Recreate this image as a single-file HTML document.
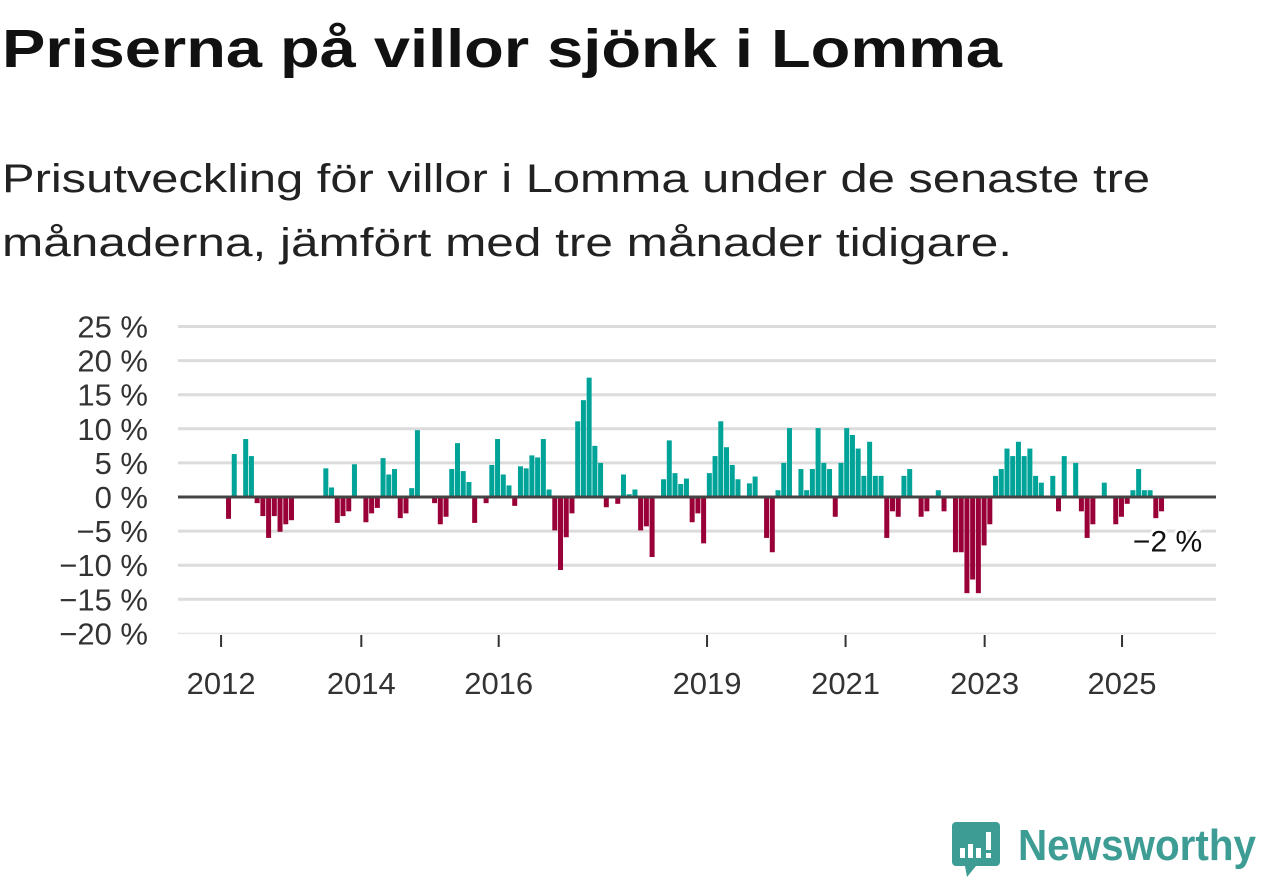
<!DOCTYPE html>
<html><head><meta charset="utf-8"><style>
html,body{margin:0;padding:0;background:#fff;}
svg{display:block;font-family:"Liberation Sans",sans-serif;}
</style></head><body>
<svg id="chart" width="1262" height="879" viewBox="0 0 1262 879">
<text x="2" y="67" font-size="54" font-weight="bold" fill="#111" textLength="1000" lengthAdjust="spacingAndGlyphs">Priserna på villor sjönk i Lomma</text>
<text x="2" y="192" font-size="40" fill="#222" textLength="1148" lengthAdjust="spacingAndGlyphs">Prisutveckling för villor i Lomma under de senaste tre</text>
<text x="2" y="256" font-size="40" fill="#222" textLength="1010" lengthAdjust="spacingAndGlyphs">månaderna, jämfört med tre månader tidigare.</text>
<g id="grid"></g><g id="bars"></g><g id="axes"></g>
<g>
<path d="M956 822 h40 a4 4 0 0 1 4 4 v36 a4 4 0 0 1 -4 4 h-20 l-9 11 l-2 -11 h-9 a4 4 0 0 1 -4 -4 v-36 a4 4 0 0 1 4 -4z" fill="#3d9c94"/>
<rect x="960" y="848" width="5" height="10" fill="#fff"/><rect x="968" y="844" width="5" height="14" fill="#fff"/><rect x="976" y="848" width="5" height="10" fill="#fff"/><rect x="986" y="832" width="5" height="18" fill="#fff"/><rect x="986" y="853" width="5" height="5" fill="#fff"/>
<text x="1018" y="860" font-size="44" font-weight="bold" fill="#3d9c94" textLength="238" lengthAdjust="spacingAndGlyphs">Newsworthy</text>
</g>
</svg>
<script>
const values=[null,-3.2,6.3,null,8.5,6.0,-0.9,-2.8,-6.0,-2.8,-5.1,-4.0,-3.4,null,null,null,null,null,4.2,1.4,-3.8,-2.8,-2.1,4.8,null,-3.7,-2.4,-1.6,5.7,3.3,4.1,-3.1,-2.4,1.3,9.8,null,null,-0.9,-4.0,-2.9,4.1,7.9,3.8,2.2,-3.8,null,-0.9,4.7,8.5,3.3,1.7,-1.3,4.5,4.2,6.1,5.8,8.5,1.1,-4.9,-10.7,-5.9,-2.4,11.1,14.2,17.5,7.5,5.0,-1.5,null,-1.0,3.3,0.4,1.1,-4.9,-4.3,-8.8,null,2.6,8.3,3.5,1.9,2.7,-3.7,-2.4,-6.8,3.5,6.0,11.1,7.3,4.7,2.6,null,2.0,3.0,null,-6.0,-8.1,1.0,5.0,10.1,null,4.1,1.0,4.1,10.1,5.0,4.1,-2.9,5.0,10.1,9.1,7.1,3.1,8.1,3.1,3.1,-6.0,-2.1,-2.9,3.1,4.1,null,-2.9,-2.1,null,1.0,-2.1,null,-8.1,-8.1,-14.1,-12.1,-14.1,-7.1,-4.0,3.1,4.1,7.1,6.0,8.1,6.0,7.1,3.1,2.1,null,3.1,-2.1,6.0,null,5.0,-2.1,-6.0,-4.0,null,2.1,null,-4.0,-2.9,-1.0,1.0,4.1,1.0,1.0,-3.1,-2.1];
const yTicks=[25,20,15,10,5,0,-5,-10,-15,-20];
const xTickLabels=["2012","2014","2016","2019","2021","2023","2025"];
const xTickMonths=[-0.3,24.2,48.2,84.6,108.8,133.1,157.1];
const lastLabel="−2 %";
const NS="http://www.w3.org/2000/svg";
const y=v=>497-v*6.82;
const x=i=>222.8+i*5.724;
function mk(t,a,p){const e=document.createElementNS(NS,t);for(const k in a)e.setAttribute(k,a[k]);p.appendChild(e);return e;}
const grid=document.getElementById('grid'),bars=document.getElementById('bars'),axes=document.getElementById('axes');
yTicks.forEach(v=>{
 if(v!==0){const l=mk('line',{x1:178,x2:1216,y1:y(v),y2:y(v),stroke:v===-20?'#e6e6e6':'#dcdcdc','stroke-width':v===-20?1.5:3},grid);
 
 }
 const t=mk('text',{x:148,y:y(v)+11,'font-size':31,'text-anchor':'end',fill:'#333'},axes);
 t.textContent=(v<0?'−'+(-v):v)+' %';
 
 
});
values.forEach((v,i)=>{
 if(v===null)return;
 const r=mk('rect',{x:x(i)-2.5,width:5,y:Math.min(y(v),y(0)),height:Math.abs(y(v)-y(0)),fill:v>=0?'#00a398':'#990038'},bars);
 
 
});
const z=mk('line',{x1:178,x2:1216,y1:y(0),y2:y(0),stroke:'#444','stroke-width':3},axes);


xTickLabels.forEach((s,k)=>{
 const xx=x(xTickMonths[k]);
 const l=mk('line',{x1:xx,x2:xx,y1:635,y2:647,stroke:'#333','stroke-width':2},axes);
 
 
 const t=mk('text',{x:xx,y:694,'font-size':31,'text-anchor':'middle',fill:'#333'},axes);
 t.textContent=s;
 
 
});
const li=values.length-1;
const lb=mk('text',{x:x(li)+6,y:y(values[li])+40,'font-size':30,'text-anchor':'middle',fill:'#111',stroke:'#fff','stroke-width':6,'paint-order':'stroke'},axes);
lb.textContent=lastLabel;


</script>
</body></html>
